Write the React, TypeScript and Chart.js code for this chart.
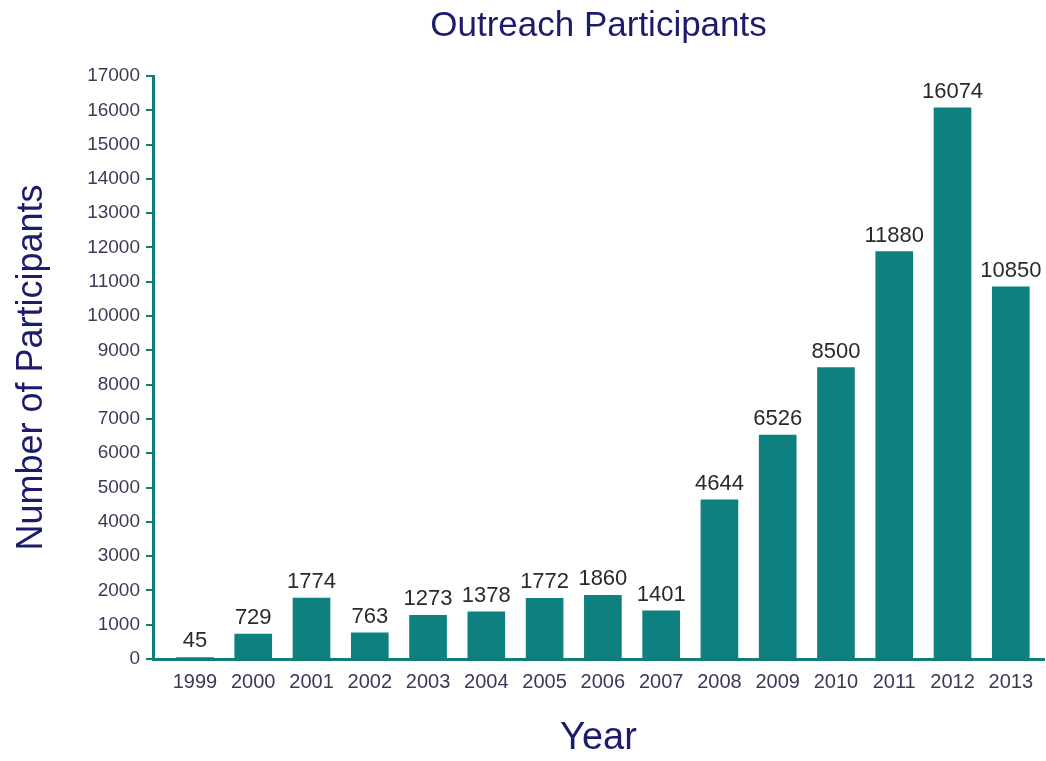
import React, { useEffect, useRef } from "react";
import { Chart, registerables } from "chart.js";

Chart.register(...registerables);

const years: number[] = [1999, 2000, 2001, 2002, 2003, 2004, 2005, 2006, 2007, 2008, 2009, 2010, 2011, 2012, 2013];
const participants: number[] = [45, 729, 1774, 763, 1273, 1378, 1772, 1860, 1401, 4644, 6526, 8500, 11880, 16074, 10850];

const chartTitle = "Outreach Participants";
const yTitle = "Number of Participants";
const xTitle = "Year";

const TEAL = "#0e8080";
const AXIS = "#0f7d78";
const NAVY = "#1c1c6e";
const TICK = "#3a3a58";
const FONT = "'Liberation Sans', Arial, sans-serif";

const valueLabels = {
  id: "valueLabels",
  afterDatasetsDraw(chart: any) {
    const ctx = chart.ctx;
    const meta = chart.getDatasetMeta(0);
    ctx.save();
    ctx.font = `22px ${FONT}`;
    ctx.fillStyle = "#2a2a2a";
    ctx.textAlign = "center";
    ctx.textBaseline = "alphabetic";
    meta.data.forEach((bar: any, i: number) => {
      ctx.fillText(String(participants[i]), bar.x, bar.y - 10);
    });
    ctx.restore();
  },
};

const areaTitle = {
  id: "areaTitle",
  afterDraw(chart: any) {
    const ctx = chart.ctx;
    const a = chart.chartArea;
    ctx.save();
    ctx.font = `35px ${FONT}`;
    ctx.fillStyle = NAVY;
    ctx.textAlign = "center";
    ctx.textBaseline = "alphabetic";
    ctx.fillText(chartTitle, (a.left + a.right) / 2, 36);
    ctx.restore();
  },
};

export default function App() {
  const ref = useRef<HTMLCanvasElement | null>(null);

  useEffect(() => {
    if (!ref.current) return;
    const chart = new Chart(ref.current, {
      type: "bar",
      data: {
        datasets: [
          {
            data: years.map((y, i) => ({ x: y, y: participants[i] })),
            backgroundColor: TEAL,
            borderWidth: 0,
            barThickness: 37,
          },
        ],
      },
      options: {
        animation: false,
        responsive: true,
        maintainAspectRatio: false,
        layout: { padding: { left: 0, right: 2, top: 76, bottom: 0 } },
        plugins: {
          legend: { display: false },
          tooltip: { enabled: false },
          title: { display: false },
        },
        scales: {
          x: {
            type: "linear",
            offset: false,
            min: 1998.28,
            max: 2013.57,
            afterBuildTicks: (scale: any) => {
              scale.ticks = years.map((v) => ({ value: v }));
            },
            afterFit: (scale: any) => {
              scale.height = 102;
            },
            grid: { display: false, drawTicks: false },
            border: { display: true, color: AXIS, width: 3 },
            ticks: {
              color: TICK,
              font: { family: FONT, size: 20 },
              padding: 11,
              autoSkip: false,
              maxRotation: 0,
              callback: (v: any) => String(v),
            },
            title: {
              display: true,
              text: xTitle,
              color: NAVY,
              font: { family: FONT, size: 38 },
              padding: { top: 0, bottom: 0 },
            },
          },
          y: {
            min: 0,
            max: 17000,
            afterFit: (scale: any) => {
              scale.width = 153;
            },
            grid: {
              display: true,
              drawOnChartArea: false,
              drawTicks: true,
              tickLength: 7,
              color: AXIS,
              lineWidth: 2,
            },
            border: { display: true, color: AXIS, width: 3 },
            ticks: {
              stepSize: 1000,
              color: TICK,
              font: { family: FONT, size: 19 },
              padding: 6,
              callback: (v: any) => String(v),
            },
            title: {
              display: true,
              text: yTitle,
              color: NAVY,
              font: { family: FONT, size: 36 },
              padding: { top: 10, bottom: 0 },
            },
          },
        },
      },
      plugins: [valueLabels, areaTitle],
    });
    return () => chart.destroy();
  }, []);

  return (
    <div style={{ position: "fixed", left: 0, top: 0, width: 1046, height: 761, background: "#fff" }}>
      <canvas ref={ref} />
    </div>
  );
}
